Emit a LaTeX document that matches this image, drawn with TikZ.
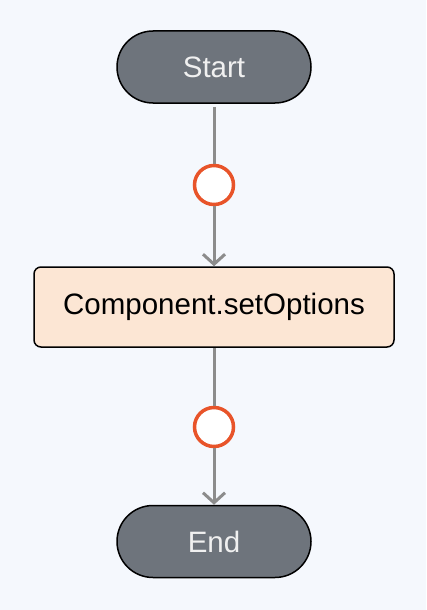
\documentclass[tikz,border=0pt]{standalone}
\usepackage{fontspec}
\setmainfont{Liberation Sans}
\usetikzlibrary{arrows.meta}
\definecolor{bgcol}{HTML}{F5F8FD}
\definecolor{pillcol}{HTML}{6E747C}
\definecolor{taskcol}{HTML}{FCE6D4}
\definecolor{dotcol}{HTML}{E8542A}
\definecolor{flowcol}{HTML}{8C8C8C}

\begin{document}
\begin{tikzpicture}[x = 1pt, y = -1pt, font = \fontsize{29.5}{34}\selectfont,
        pill/.style = {draw = black, line width = 1.5pt, fill = pillcol, text = white!94!black, minimum width = 194pt, minimum height = 72pt, rounded corners = 36pt},
        task/.style = {draw = black, line width = 1.5pt, fill = taskcol, minimum width = 360pt, minimum height = 80pt, rounded corners = 7pt},
        dot/.style = {circle, draw = dotcol, line width = 3.5pt, fill = white, minimum size = 39pt, inner sep = 0pt},
        flow/.style = {draw = flowcol, line width = 3pt},
        arr/.style = {flow, -{Straight Barb[length = 10pt, width = 22pt]}}]
        \fill [bgcol] (0,0) rectangle (426,610);

        \node [pill] (start) at (214,67) {Start};
        \node [dot] (dot1) at (214,185) {};
        \node [task] (setopt) at (214,307) {Component.setOptions};
        \node [dot] (dot2) at (214,427) {};
        \node [pill] (end) at (214,541.5) {End};

        \draw [flow, shorten < = 3pt] (start) -- (dot1);
        \draw [arr] (dot1) -- (setopt);
        \draw [flow] (setopt) -- (dot2);
        \draw [arr] (dot2) -- (end);
    \end{tikzpicture}
\end{document}
